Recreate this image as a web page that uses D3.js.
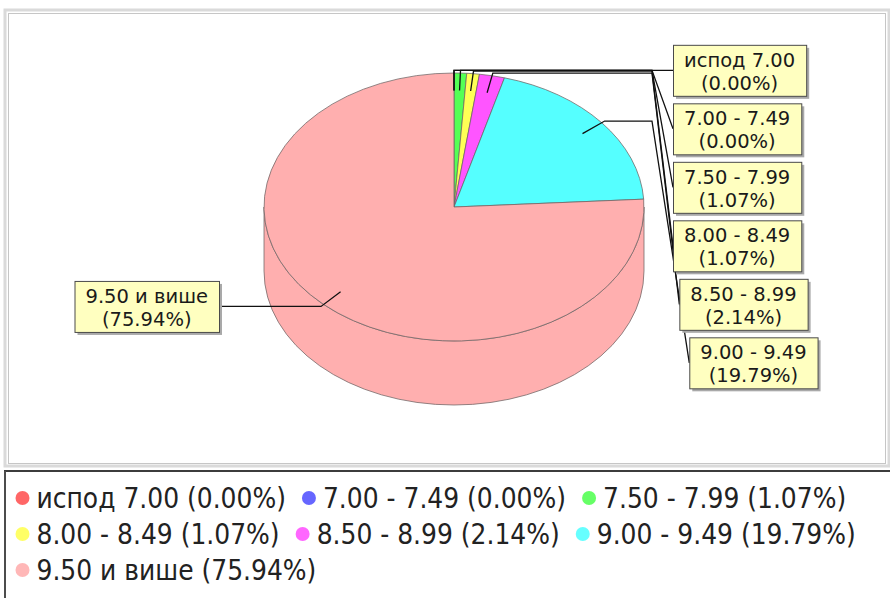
<!DOCTYPE html>
<html>
<head>
<meta charset="utf-8">
<script src="https://cdnjs.cloudflare.com/ajax/libs/d3/7.8.5/d3.min.js"></script>
<style>
    body { margin: 0; background: #fff; }
    svg { display: block; }
</style>
</head>
<body>
<div id="chart"></div>
<script>
// data
var categories = ["испод 7.00", "7.00 - 7.49", "7.50 - 7.99", "8.00 - 8.49", "8.50 - 8.99", "9.00 - 9.49", "9.50 и више"];
var shares = [0.00, 0.00, 1.07, 1.07, 2.14, 19.79, 75.94];
var colors = ["#ff5555", "#5555ff", "#55ff55", "#ffff55", "#ff55ff", "#55ffff", "#ffafaf"];

var svgWidth = 890;
var svgHeight = 598;

var svg = d3.select("#chart")
    .append("svg")
    .attr("width", svgWidth)
    .attr("height", svgHeight);

// plot frame
svg.append("rect")
    .attr("x", 5).attr("y", 10)
    .attr("width", 884).attr("height", 456)
    .attr("fill", "none")
    .attr("stroke", "#dadada")
    .attr("stroke-width", 3);
svg.append("rect")
    .attr("x", 8.5).attr("y", 13.5)
    .attr("width", 877).attr("height", 450)
    .attr("fill", "#fff")
    .attr("stroke", "#c6c6c6")
    .attr("stroke-width", 1);

// pie geometry
var cx = 454, cy = 207, rx = 190, ry = 134, depth = 64;

function pt(a, f, dy) {
    return [cx + rx * f * Math.sin(a), cy - ry * f * Math.cos(a) + (dy || 0)];
}

var pie = d3.pie().sort(null).value(d => d);
var arcs = pie(shares);

var pieG = svg.append("g");
var outline = "rgba(110,100,100,0.75)";

// front side walls (only the half that faces the viewer)
arcs.forEach(function(d, i) {
    var b1 = Math.max(d.startAngle, Math.PI / 2);
    var b2 = Math.min(d.endAngle, Math.PI * 1.5);
    if (b2 <= b1) return;
    var p1 = pt(b1, 1), p2 = pt(b2, 1);
    var q1 = pt(b1, 1, depth), q2 = pt(b2, 1, depth);
    pieG.append("path")
        .attr("d", `M${p1} A${rx},${ry} 0 0 1 ${p2} L${q2} A${rx},${ry} 0 0 0 ${q1} Z`)
        .attr("fill", colors[i])
        .attr("stroke", outline)
        .attr("stroke-width", 1);
});

// top face
arcs.forEach(function(d, i) {
    if (d.endAngle - d.startAngle <= 0) return;
    var p1 = pt(d.startAngle, 1), p2 = pt(d.endAngle, 1);
    var large = (d.endAngle - d.startAngle) > Math.PI ? 1 : 0;
    pieG.append("path")
        .attr("d", `M${cx},${cy} L${p1} A${rx},${ry} 0 ${large} 1 ${p2} Z`)
        .attr("fill", colors[i])
        .attr("stroke", outline)
        .attr("stroke-width", 1);
});

// labels
var labelFont = 19.5;
var boxH = 51, boxGap = 7.5, pad = 11;
var linkXRight = cx + rx + 8;

var rightItems = [], leftItems = [];
arcs.forEach(function(d, i) {
    var mid = (d.startAngle + d.endAngle) / 2;
    var item = {
        i: i,
        a: pt(mid, 0.87),
        e: pt(mid, 1.02)
    };
    if (mid <= Math.PI) rightItems.push(item);
    else leftItems.push(item);
});

function distribute(items) {
    var prev = -Infinity;
    items.forEach(function(it) {
        it.c = Math.max(it.e[1], prev + boxH + boxGap);
        prev = it.c;
    });
}
distribute(rightItems);
distribute(leftItems);

var linkG = svg.append("g");
var labelG = svg.append("g");

function drawLabel(it, side) {
    var g = labelG.append("g");
    var t1 = g.append("text")
        .attr("font-family", "DejaVu Sans")
        .attr("font-size", labelFont)
        .attr("fill", "#1a1a1a")
        .attr("text-anchor", "middle")
        .text(categories[it.i]);
    var t2 = g.append("text")
        .attr("font-family", "DejaVu Sans")
        .attr("font-size", labelFont)
        .attr("fill", "#1a1a1a")
        .attr("text-anchor", "middle")
        .text("(" + shares[it.i].toFixed(2) + "%)");
    var w = Math.max(t1.node().getComputedTextLength(), t2.node().getComputedTextLength()) + 2 * pad;
    var top = it.c - boxH / 2;
    var x0;
    if (side === "right") {
        x0 = linkXRight + 21 + Math.max(0, it.c - cy - 60) * 0.17;
    } else {
        x0 = cx - rx - 45 - w;
    }
    g.insert("rect", "text")
        .attr("x", x0 + 3).attr("y", top + 3)
        .attr("width", w).attr("height", boxH)
        .attr("fill", "#a9a9a9");
    g.insert("rect", "text")
        .attr("x", x0 + 0.5).attr("y", top + 0.5)
        .attr("width", w).attr("height", boxH)
        .attr("fill", "#ffffc0")
        .attr("stroke", "#4a4a4a")
        .attr("stroke-width", 1);
    t1.attr("x", x0 + w / 2).attr("y", top + 22);
    t2.attr("x", x0 + w / 2).attr("y", top + 45);

    var pts;
    if (side === "right") {
        pts = [it.a, it.e, [linkXRight, it.e[1]], [x0, it.c]];
    } else {
        pts = [it.a, it.e, [x0 + w, it.e[1]]];
    }
    linkG.append("path")
        .attr("d", d3.line()(pts))
        .attr("fill", "none")
        .attr("stroke", "#111")
        .attr("stroke-width", 1.3);
}

rightItems.forEach(it => drawLabel(it, "right"));
leftItems.forEach(it => drawLabel(it, "left"));

// legend
var legendTop = 471;
svg.append("line")
    .attr("x1", 4).attr("x2", svgWidth)
    .attr("y1", legendTop).attr("y2", legendTop)
    .attr("stroke", "#3c3c3c").attr("stroke-width", 2);
svg.append("line")
    .attr("x1", 5).attr("x2", 5)
    .attr("y1", legendTop).attr("y2", svgHeight)
    .attr("stroke", "#4c4c4c").attr("stroke-width", 2);

var legend = svg.append("g");
var dotR = 7, rowH = 36;
var lx = 15.5, rowCy = 498;
categories.forEach(function(c, i) {
    var item = legend.append("g");
    var txt = item.append("text")
        .attr("font-family", "DejaVu Sans Condensed, DejaVu Sans")
        .attr("font-stretch", "condensed")
        .attr("font-size", 27.8)
        .attr("fill", "#222")
        .text(c + " (" + shares[i].toFixed(2) + "%)");
    var tw = txt.node().getComputedTextLength();
    if (lx + 2 * dotR + 7 + tw > 880) {
        lx = 15.5;
        rowCy += rowH;
    }
    item.append("circle")
        .attr("cx", lx + dotR).attr("cy", rowCy)
        .attr("r", dotR)
        .attr("fill", colors[i])
        .attr("opacity", 0.9);
    txt.attr("x", lx + 2 * dotR + 7).attr("y", rowCy + 10);
    lx = lx + 2 * dotR + 7 + tw + 16;
});
</script>
</body>
</html>
